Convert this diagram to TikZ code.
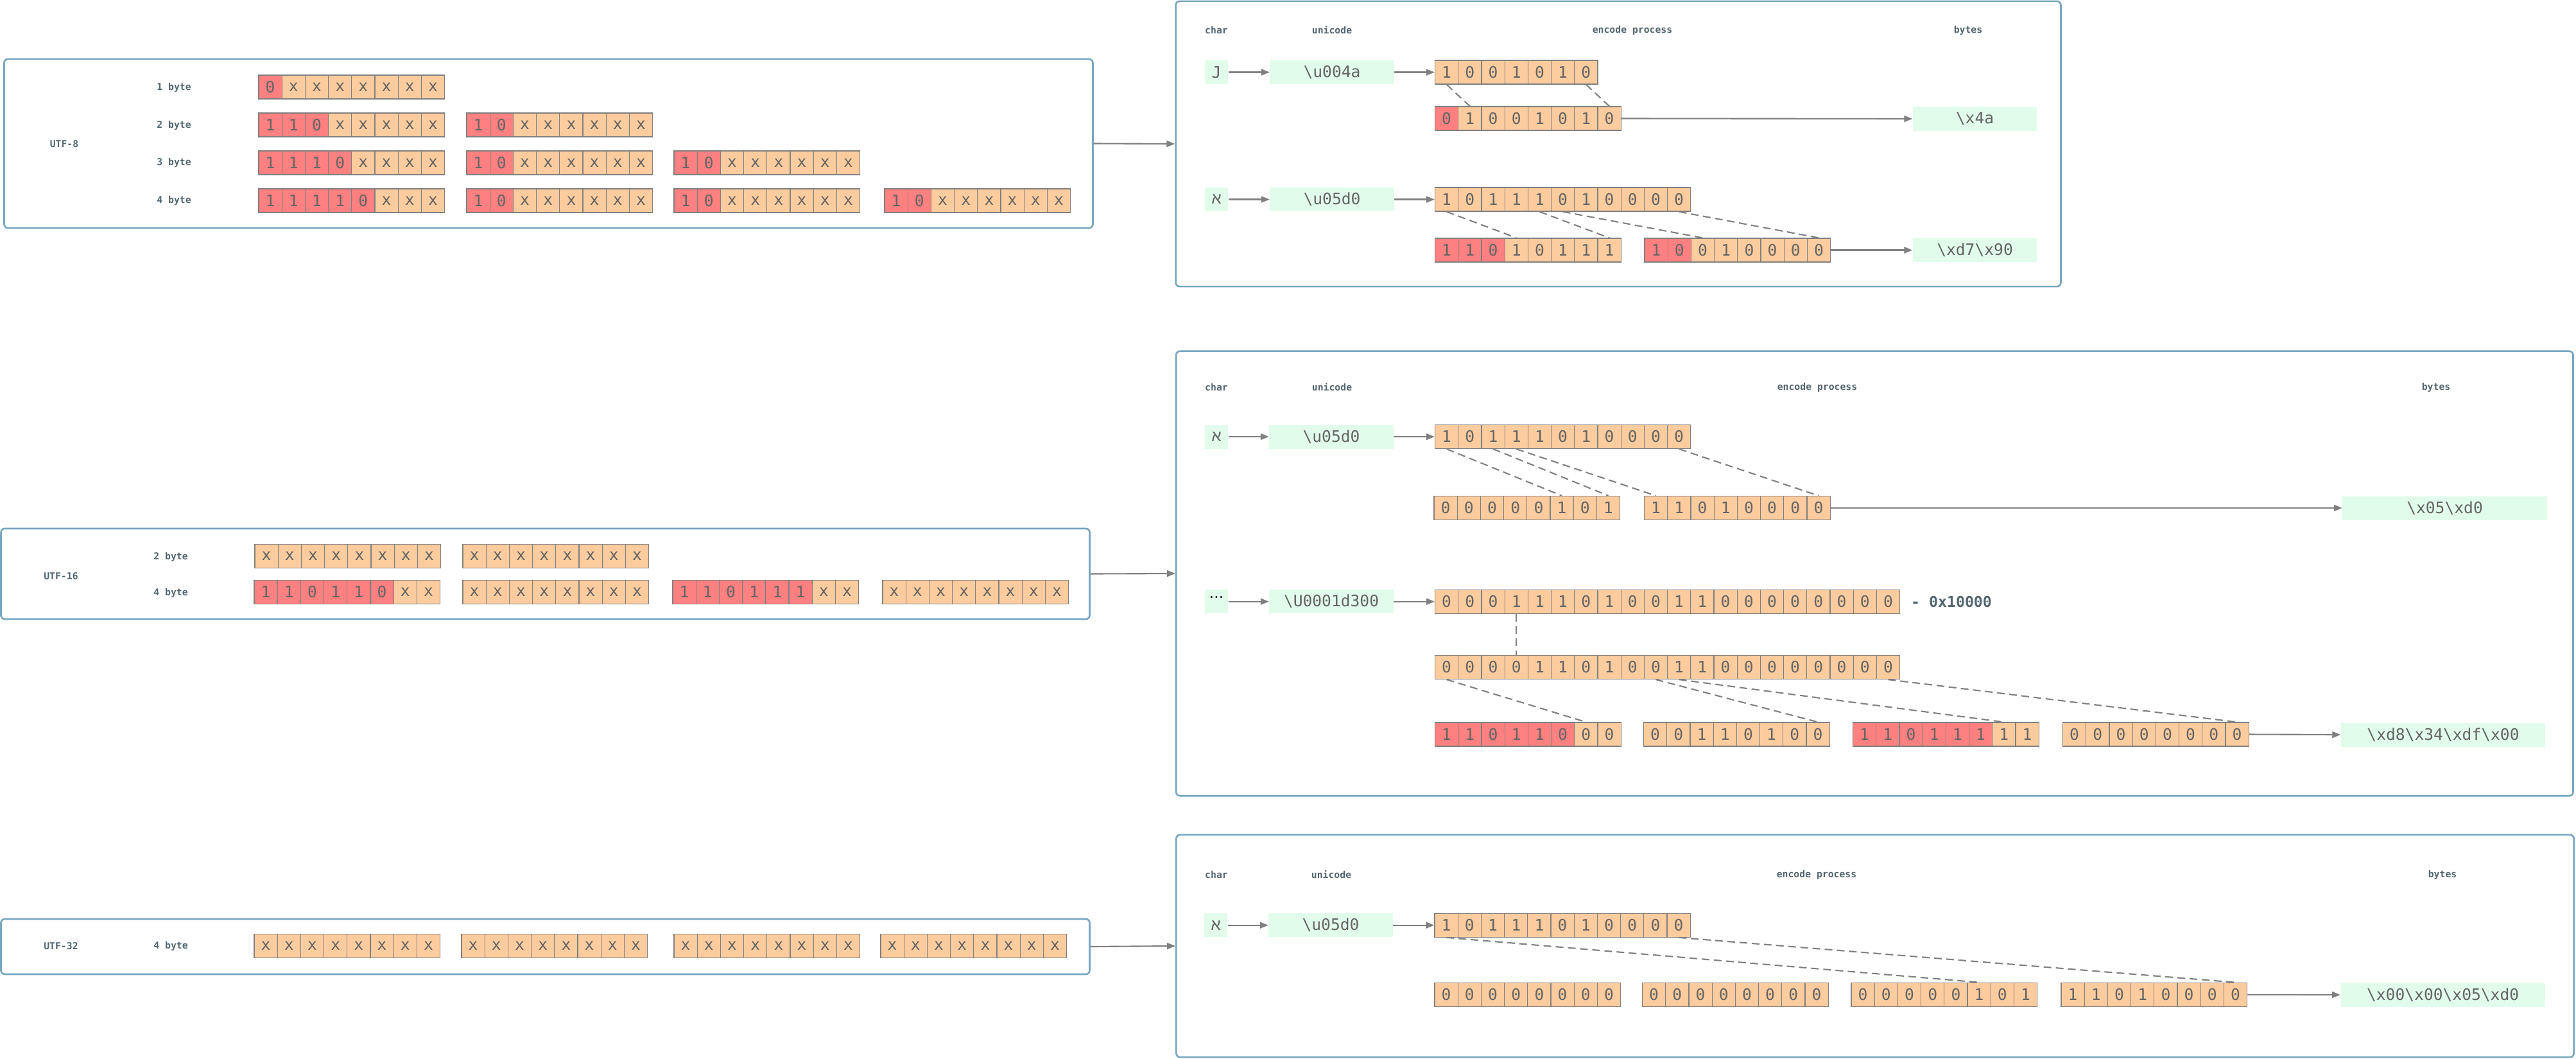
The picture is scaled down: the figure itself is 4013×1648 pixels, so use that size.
\documentclass[tikz,border=0pt]{standalone}
\usepackage{fontspec}
\setmonofont{DejaVu Sans Mono}
\newfontfamily\hebfont{Liberation Sans}
\newfontfamily\symfont{DejaVu Sans}
\usetikzlibrary{arrows.meta}
\definecolor{peach}{RGB}{252,204,158}
\definecolor{redc}{RGB}{255,128,128}
\definecolor{greenc}{RGB}{226,252,235}
\definecolor{boxblue}{RGB}{118,166,192}
\definecolor{linegray}{RGB}{128,128,128}
\definecolor{txtgray}{RGB}{100,100,100}
\definecolor{slate}{RGB}{82,102,112}
\newcommand\bigf{\ttfamily\fontsize{7}{8}\selectfont}
\newcommand\bitrow[5]{%
  \foreach \b [count=\i] in {#5}{%
    \ifnum\i>#4\relax\def\fc{peach}\else\def\fc{redc}\fi
    \node[cell, fill=\fc] (#1-\i) at ({#2+(\i-0.5)*36.2}, #3) {\b};
  }%
}
\begin{document}
\begin{tikzpicture}[x=0.01cm, y=-0.01cm,
  cell/.style={draw=linegray, line width=0.35pt, minimum width=0.362cm, minimum height=0.37cm, inner sep=0pt, text=txtgray, font=\bigf},
  bigbox/.style={draw=boxblue, line width=0.75pt, rounded corners=0.06cm, inner sep=0pt},
  greenbox/.style={fill=greenc, minimum height=0.37cm, inner sep=0pt, text=txtgray, font=\bigf},
  lbl/.style={text=slate, inner sep=0pt, font=\ttfamily\bfseries\fontsize{4.2}{5}\selectfont},
  arr/.style={draw=linegray, line width=0.6pt, -{Triangle[length=0.13cm,width=0.1cm]}},
  dline/.style={draw=linegray, line width=0.6pt, dash pattern=on 0.12cm off 0.07cm},
]
\useasboundingbox (0,0) rectangle (4013,1648);

% ---------- big boxes ----------
\node[bigbox, minimum width=16.95cm, minimum height=2.63cm] (utf8) at (854.5,223.5) {};
\node[bigbox, minimum width=16.95cm, minimum height=1.41cm] (utf16) at (849.5,893.5) {};
\node[bigbox, minimum width=16.95cm, minimum height=0.86cm] (utf32) at (849.5,1474) {};
\node[bigbox, minimum width=13.78cm, minimum height=4.44cm] (enc8) at (2521,224) {};
\node[bigbox, minimum width=21.75cm, minimum height=6.92cm] (enc16) at (2920.3,893) {};
\node[bigbox, minimum width=21.76cm, minimum height=3.46cm] (enc32) at (2921,1473) {};

\draw[arr] (utf8.east) -- (enc8.west);
\draw[arr] (utf16.east) -- (enc16.west);
\draw[arr] (utf32.east) -- (enc32.west);

% ---------- UTF-8 schema ----------
\node[lbl] (l8) at (100,224) {UTF-8};
\node[lbl] (l8a) at (271,136) {1 byte};
\node[lbl] (l8b) at (271,195) {2 byte};
\node[lbl] (l8c) at (271,253) {3 byte};
\node[lbl] (l8d) at (271,312) {4 byte};
\bitrow{ua}{403}{135.5}{1}{0,x,x,x,x,x,x,x}
\bitrow{ub1}{403}{194.5}{3}{1,1,0,x,x,x,x,x}
\bitrow{ub2}{727}{194.5}{2}{1,0,x,x,x,x,x,x}
\bitrow{uc1}{403}{253.5}{4}{1,1,1,0,x,x,x,x}
\bitrow{uc2}{727}{253.5}{2}{1,0,x,x,x,x,x,x}
\bitrow{uc3}{1050}{253.5}{2}{1,0,x,x,x,x,x,x}
\bitrow{ud1}{403}{312.5}{5}{1,1,1,1,0,x,x,x}
\bitrow{ud2}{727}{312.5}{2}{1,0,x,x,x,x,x,x}
\bitrow{ud3}{1050}{312.5}{2}{1,0,x,x,x,x,x,x}
\bitrow{ud4}{1378}{312.5}{2}{1,0,x,x,x,x,x,x}

% ---------- UTF-16 schema ----------
\node[lbl] (l16) at (95,897) {UTF-16};
\node[lbl] (l16a) at (266,867) {2 byte};
\node[lbl] (l16b) at (266,923) {4 byte};
\bitrow{sa1}{397}{865.8}{0}{x,x,x,x,x,x,x,x}
\bitrow{sa2}{721}{865.8}{0}{x,x,x,x,x,x,x,x}
\bitrow{sb1}{396}{921.8}{6}{1,1,0,1,1,0,x,x}
\bitrow{sb2}{721}{921.8}{0}{x,x,x,x,x,x,x,x}
\bitrow{sb3}{1048}{921.8}{6}{1,1,0,1,1,1,x,x}
\bitrow{sb4}{1375}{921.8}{0}{x,x,x,x,x,x,x,x}

% ---------- UTF-32 schema ----------
\node[lbl] (l32) at (95,1473) {UTF-32};
\node[lbl] (l32a) at (266,1473) {4 byte};
\bitrow{ta1}{396}{1472.8}{0}{x,x,x,x,x,x,x,x}
\bitrow{ta2}{719}{1472.8}{0}{x,x,x,x,x,x,x,x}
\bitrow{ta3}{1050}{1472.8}{0}{x,x,x,x,x,x,x,x}
\bitrow{ta4}{1372}{1472.8}{0}{x,x,x,x,x,x,x,x}

% ---------- UTF-8 encode ----------
\node[lbl] (h1a) at (1895,47) {char};
\node[lbl] (h1b) at (2075,47) {unicode};
\node[lbl] (h1c) at (2543,47) {encode process};
\node[lbl] (h1d) at (3066,47) {bytes};

\node[greenbox, minimum width=0.36cm] (c1) at (1895,112.5) {J};
\node[greenbox, minimum width=1.93cm] (u1) at (2075,112.5) {\textbackslash u004a};
\bitrow{r1}{2235.5}{112.5}{0}{1,0,0,1,0,1,0}
\bitrow{r2}{2235.5}{184.5}{1}{0,1,0,0,1,0,1,0}
\node[greenbox, minimum width=1.93cm] (b1) at (3076.5,185) {\textbackslash x4a};
\draw[arr] (c1.east) -- (u1.west);
\draw[arr] (u1.east) -- (r1-1.west);
\draw[arr] (r2-8.east) -- (b1.west);
\draw[dline] (r1-1.south) -- (r2-2.north);
\draw[dline] (r1-7.south) -- (r2-8.north);

\node[greenbox, minimum width=0.36cm] (c2) at (1895,310.5) {\hebfont א};
\node[greenbox, minimum width=1.93cm] (u2) at (2075,310.5) {\textbackslash u05d0};
\bitrow{r3}{2235.5}{310.5}{0}{1,0,1,1,1,0,1,0,0,0,0}
\bitrow{r4a}{2235.5}{389.5}{3}{1,1,0,1,0,1,1,1}
\bitrow{r4b}{2562}{389.5}{2}{1,0,0,1,0,0,0,0}
\node[greenbox, minimum width=1.93cm] (b2) at (3076.5,389.5) {\textbackslash xd7\textbackslash x90};
\draw[arr] (c2.east) -- (u2.west);
\draw[arr] (u2.east) -- (r3-1.west);
\draw[arr] (r4b-8.east) -- (b2.west);
\draw[dline] (r3-1.south) -- (r4a-4.north);
\draw[dline] (r3-5.south) -- (r4a-8.north);
\draw[dline] (r3-6.south) -- (r4b-3.north);
\draw[dline] (r3-11.south) -- (r4b-8.north);

% ---------- UTF-16 encode ----------
\node[lbl] (h2a) at (1895,603) {char};
\node[lbl] (h2b) at (2075,603) {unicode};
\node[lbl] (h2c) at (2831,603) {encode process};
\node[lbl] (h2d) at (3795,603) {bytes};

\node[greenbox, minimum width=0.36cm] (mc1) at (1895,680) {\hebfont א};
\node[greenbox, minimum width=1.93cm] (mu1) at (2074,680) {\textbackslash u05d0};
\bitrow{mA}{2235.5}{680}{0}{1,0,1,1,1,0,1,0,0,0,0}
\bitrow{mBa}{2234}{791}{0}{0,0,0,0,0,1,0,1}
\bitrow{mBb}{2561.5}{791}{0}{1,1,0,1,0,0,0,0}
\node[greenbox, minimum width=3.18cm] (mb1) at (3808.5,791) {\textbackslash x05\textbackslash xd0};
\draw[arr] (mc1.east) -- (mu1.west);
\draw[arr] (mu1.east) -- (mA-1.west);
\draw[arr] (mBb-8.east) -- (mb1.west);
\draw[dline] (mA-1.south) -- (mBa-6.north);
\draw[dline] (mA-3.south) -- (mBa-8.north);
\draw[dline] (mA-4.south) -- (mBb-1.north);
\draw[dline] (mA-11.south) -- (mBb-8.north);

\node[greenbox, minimum width=0.36cm, text height=0.22cm, text depth=0.15cm, text=black] (mc2) at (1895,936.7) {\raisebox{0.09cm}{\symfont\fontsize{6.5}{6.5}\selectfont …}};
\node[greenbox, minimum width=1.93cm] (mu2) at (2074,936.7) {\textbackslash U0001d300};
\bitrow{mC}{2235.5}{936.7}{0}{0,0,0,1,1,1,0,1,0,0,1,1,0,0,0,0,0,0,0,0}
\node[text=slate, inner sep=0pt, font=\ttfamily\bfseries\fontsize{6.6}{7}\selectfont] (sub) at (3040,936.7) {- 0x10000};
\bitrow{mD}{2235.5}{1039}{0}{0,0,0,0,1,1,0,1,0,0,1,1,0,0,0,0,0,0,0,0}
\bitrow{mEa}{2235.5}{1143.5}{6}{1,1,0,1,1,0,0,0}
\bitrow{mEb}{2560.5}{1143.5}{0}{0,0,1,1,0,1,0,0}
\bitrow{mEc}{2886.5}{1143.5}{6}{1,1,0,1,1,1,1,1}
\bitrow{mEd}{3213.5}{1143.5}{0}{0,0,0,0,0,0,0,0}
\node[greenbox, minimum width=3.18cm] (mb2) at (3806,1144) {\textbackslash xd8\textbackslash x34\textbackslash xdf\textbackslash x00};
\draw[arr] (mc2.east) -- (mu2.west);
\draw[arr] (mu2.east) -- (mC-1.west);
\draw[arr] (mEd-8.east) -- (mb2.west);
\draw[dline] (mC-4.south) -- (mD-4.north);
\draw[dline] (mD-1.south) -- (mEa-7.north);
\draw[dline] (mD-10.south) -- (mEb-8.north);
\draw[dline] (mD-11.south) -- (mEc-7.north);
\draw[dline] (mD-20.south) -- (mEd-8.north);

% ---------- UTF-32 encode ----------
\node[lbl] (h3a) at (1895,1362) {char};
\node[lbl] (h3b) at (2074,1362) {unicode};
\node[lbl] (h3c) at (2830,1362) {encode process};
\node[lbl] (h3d) at (3805,1362) {bytes};

\node[greenbox, minimum width=0.36cm] (bc) at (1894,1440.7) {\hebfont א};
\node[greenbox, minimum width=1.93cm] (bu) at (2073,1440.7) {\textbackslash u05d0};
\bitrow{bA}{2235}{1440.7}{0}{1,0,1,1,1,0,1,0,0,0,0}
\bitrow{bBa}{2235}{1548.8}{0}{0,0,0,0,0,0,0,0}
\bitrow{bBb}{2558.5}{1548.8}{0}{0,0,0,0,0,0,0,0}
\bitrow{bBc}{2884}{1548.8}{0}{0,0,0,0,0,1,0,1}
\bitrow{bBd}{3211}{1548.8}{0}{1,1,0,1,0,0,0,0}
\node[greenbox, minimum width=3.18cm] (bb) at (3805.6,1549) {\textbackslash x00\textbackslash x00\textbackslash x05\textbackslash xd0};
\draw[arr] (bc.east) -- (bu.west);
\draw[arr] (bu.east) -- (bA-1.west);
\draw[arr] (bBd-8.east) -- (bb.west);
\draw[dline] (bA-1.south) -- (bBc-6.north);
\draw[dline] (bA-11.south) -- (bBd-8.north);
\end{tikzpicture}
\end{document}
